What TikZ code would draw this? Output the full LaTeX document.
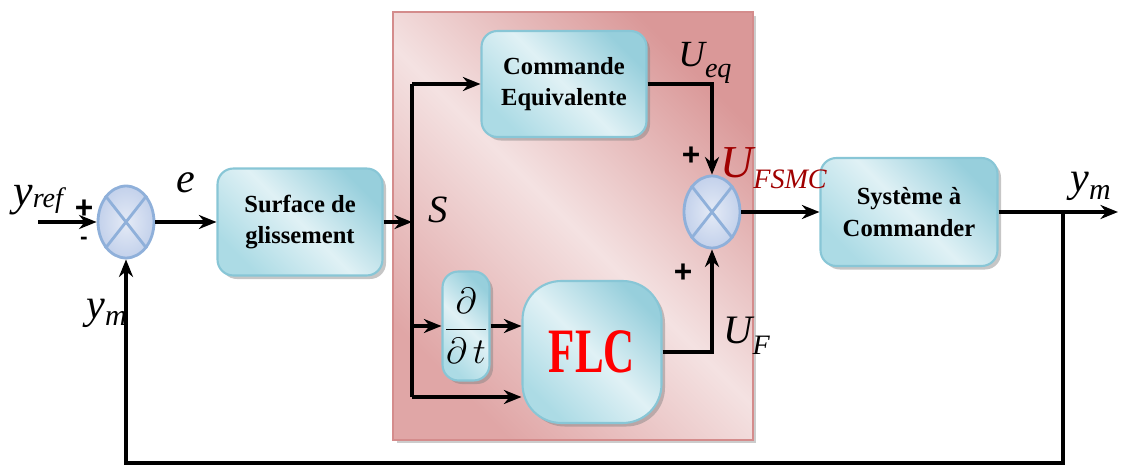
\documentclass[tikz,border=0pt]{standalone}
\usepackage{amsmath}
\usepackage{fontspec}
\setmainfont{Liberation Serif}
\setsansfont{Liberation Sans}
\usetikzlibrary{arrows.meta,shapes.geometric,shadows}

\definecolor{boxlight}{HTML}{E0F1F5}
\definecolor{boxmid}{HTML}{ACDBE5}
\definecolor{boxdark}{HTML}{97CFDC}
\definecolor{boxedge}{HTML}{88C6D6}
\definecolor{sumfill}{HTML}{C3D1EB}
\definecolor{sumedge}{HTML}{8FB0DA}
\definecolor{pinklight}{HTML}{F4E2E2}
\definecolor{pinkmid}{HTML}{E0A6A6}
\definecolor{pinkdark}{HTML}{DA9898}
\definecolor{pinkedge}{HTML}{D48C8C}
\definecolor{ufsmc}{HTML}{A00000}

% #1 lettre, #2 indice, #3 taille lettre, #4 taille indice, #5 descente de l'indice
\newcommand{\etiq}[5]{{\fontsize{#3}{#3}\selectfont\itshape #1\raisebox{-#5}{\fontsize{#4}{#4}\selectfont #2}}}

\tikzset{
  bloc/.style={draw=boxedge, line width=1.2pt, rounded corners=9pt,
    left color=boxmid, right color=boxdark, middle color=boxlight, shading angle=135,
    drop shadow={shadow xshift=2pt, shadow yshift=-2pt, opacity=.45, fill=gray},
    align=center, inner sep=2pt, font=\bfseries\fontsize{14}{18}\selectfont},
  somme/.style={ellipse, draw=sumedge, line width=1.6pt, inner color=sumfill!45, outer color=sumfill,
    minimum width=1.12cm, minimum height=1.44cm, inner sep=0pt},
  fond/.style={draw=pinkedge, line width=.8pt,
    left color=pinkmid, right color=pinkdark, middle color=pinklight, shading angle=135,
    drop shadow={shadow xshift=2pt, shadow yshift=-2pt, opacity=.4, fill=gray},
    minimum width=7.2cm, minimum height=8.56cm, inner sep=0pt},
  fleche/.style={-{Stealth[length=10pt,width=8pt]}, line width=2pt},
  lien/.style={line width=2pt},
  signe/.style={font=\sffamily\bfseries\fontsize{18}{18}\selectfont, inner sep=0pt},
  lbl/.style={inner sep=0pt}
}

\begin{document}
\begin{tikzpicture}[x=0.02cm, y=-0.02cm]
  \useasboundingbox (0,0) rectangle (1123,466);

  \node[fond] (zone) at (573,226) {};

  \node[somme] (sum1) at (126,222) {};
  \node[bloc, minimum width=3.3cm, minimum height=2.14cm] (surf) at (300,222) {Surface de\\glissement};
  \node[bloc, minimum width=3.3cm, minimum height=2.12cm] (cmd) at (564,84) {Commande\\Equivalente};
  \node[bloc, minimum width=0.94cm, minimum height=2.18cm, inner sep=0pt, font=\fontsize{20}{24}\selectfont] (ddt) at (466,326) {$\dfrac{\partial}{\partial\, t}$};
  \node[bloc, rounded corners=22pt, minimum width=2.78cm, minimum height=2.84cm, font=\bfseries\fontsize{36}{40}\selectfont, text=red] (flc) at (592,352) {\scalebox{0.68}[1]{FLC}};
  \node[somme] (sum2) at (712,212) {};
  \node[bloc, minimum width=3.54cm, minimum height=2.16cm] (sys) at (909,212) {Système à\\Commander};

  \foreach \s in {sum1,sum2}{
    \draw[sumedge, line width=1.6pt] (\s.north east) -- (\s.south west);
    \draw[sumedge, line width=1.6pt] (\s.north west) -- (\s.south east);
  }

  \coordinate (in) at (38,222);
  \coordinate (split) at (412,222);
  \coordinate (top) at (412,84);
  \coordinate (mid) at (412,326);
  \coordinate (bot) at (412,397);
  \coordinate (branch) at (1063,212);
  \coordinate (out) at (1118,212);
  \coordinate (fb) at (1063,463);

  \draw[fleche] (in) -- (sum1.west);
  \draw[fleche] (sum1.east) -- (surf.west);
  \draw[fleche] (surf.east) -- (split);
  \draw[lien] (top) -- (bot);
  \draw[fleche] (top) -- (cmd.west);
  \draw[fleche] (mid) -- (ddt.west);
  \draw[fleche] (ddt.east) -- (ddt.east -| flc.west);
  \draw[fleche] (bot) -- (bot -| flc.west);
  \draw[fleche] (cmd.east) -| (sum2.north);
  \draw[fleche] (flc.east) -| (sum2.south);
  \draw[fleche] (sum2.east) -- (sys.west);
  \draw[fleche] (sys.east) -- (out);
  \draw[fleche] (branch) -- (fb) -| (sum1.south);

  \node[lbl, anchor=base west] (yref) at (13,205) {\etiq{y}{ref}{25}{16}{1.5pt}};
  \node[signe] (p1) at (84,209) {+};
  \node[signe, font=\sffamily\bfseries\fontsize{13}{13}\selectfont] (m1) at (84,241) {-};
  \node[lbl, anchor=base west] (elbl) at (176,193) {\etiq{e}{}{24}{15}{0pt}};
  \node[lbl, anchor=base west] (slbl) at (428,222) {\etiq{S}{}{22}{15}{0pt}};
  \node[lbl, anchor=base west] (ueq) at (678,67) {\etiq{U}{eq}{21}{16}{6pt}};
  \node[signe] (p2) at (691,156) {+};
  \node[signe] (p3) at (683,273) {+};
  \node[lbl, anchor=base west, text=ufsmc] (ufsmc) at (720,177) {\etiq{U}{FSMC}{26}{16}{6.5pt}};
  \node[lbl, anchor=base west] (uf) at (723,343) {\etiq{U}{F}{23}{16}{6.5pt}};
  \node[lbl, anchor=base west] (ym1) at (1070,192) {\etiq{y}{m}{24}{17}{4pt}};
  \node[lbl, anchor=base west] (ym2) at (86,318) {\etiq{y}{m}{24}{17}{4pt}};
\end{tikzpicture}
\end{document}
